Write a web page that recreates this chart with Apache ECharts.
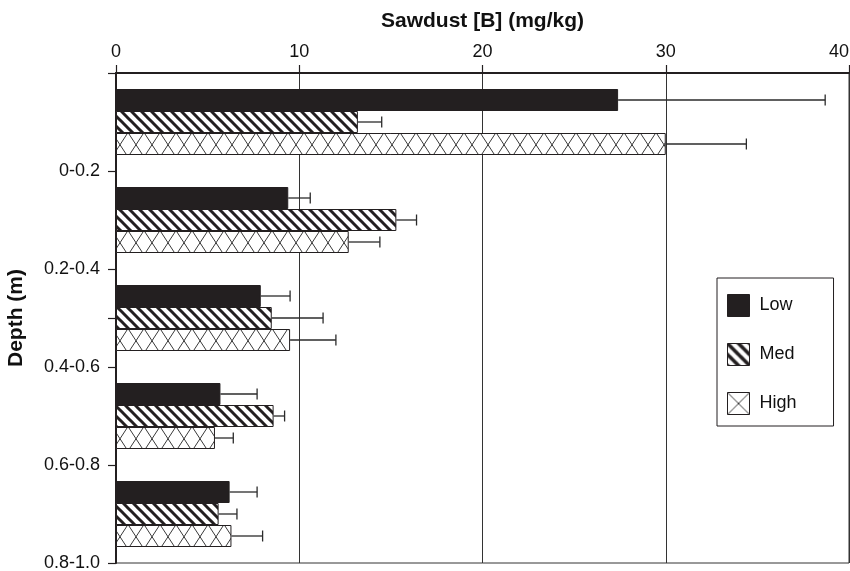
<!DOCTYPE html>
<html>
<head>
<meta charset="utf-8">
<script src="https://cdn.jsdelivr.net/npm/echarts@6/dist/echarts.min.js"></script>
<style>
  html, body { margin: 0; padding: 0; background: #fff; }
  #chart { width: 850px; height: 571px; }
</style>
</head>
<body>
<div id="chart"></div>
<script>
// Depth intervals (m)
const depthLabels = ['0-0.2', '0.2-0.4', '0.4-0.6', '0.6-0.8', '0.8-1.0'];
// Boron in sawdust (mg/kg), mean per treatment level
const lowValues  = [27.4, 9.4, 7.9, 5.7, 6.2];
const medValues  = [13.2, 15.3, 8.5, 8.6, 5.6];
const highValues = [30.0, 12.7, 9.5, 5.4, 6.3];
// Upper error (mg/kg)
const lowErr  = [11.3, 1.2, 1.6, 2.0, 1.5];
const medErr  = [1.3, 1.1, 2.8, 0.6, 1.0];
const highErr = [4.4, 1.7, 2.5, 1.0, 1.7];
// Value-axis tick labels
const xTicks = [0, 10, 20, 30, 40];

const FONT = '"Liberation Sans", Arial, Helvetica, sans-serif';
const INK = '#231f20';
const BAR_W = 22;

function makeTile(w, h, draw) {
  const c = document.createElement('canvas');
  c.width = w; c.height = h;
  const g = c.getContext('2d');
  g.fillStyle = '#fff';
  g.fillRect(0, 0, w, h);
  draw(g, w, h);
  return c;
}

// Thick back-slash stripes
function stripes(period, width) {
  return makeTile(period, period, (g, w) => {
    g.strokeStyle = INK;
    g.lineWidth = width;
    for (const x0 of [-w, 0, w]) {
      g.beginPath();
      g.moveTo(x0 - 2, -2);
      g.lineTo(x0 + w + 2, w + 2);
      g.stroke();
    }
  });
}

// Thin diamond cross-hatch
function diamonds(w, h, rows) {
  return makeTile(w, h, (g) => {
    g.strokeStyle = '#3a3a3a';
    g.lineWidth = 1;
    const rh = h / rows;
    for (let r = 0; r < rows; r++) {
      const y0 = r * rh;
      g.beginPath();
      g.moveTo(0, y0); g.lineTo(w, y0 + rh);
      g.moveTo(w, y0); g.lineTo(0, y0 + rh);
      g.stroke();
    }
  });
}

const medFill  = { image: stripes(10, 3), repeat: 'repeat' };
const highFill = { image: diamonds(16, 49, 2), repeat: 'repeat', y: 10 };
const medLegendFill  = { image: stripes(11, 3.5), repeat: 'repeat' };
const highLegendFill = { image: diamonds(22, 22, 1), repeat: 'repeat' };

function barSeries(name, values, color) {
  return {
    name: name,
    type: 'bar',
    xAxisIndex: 0,
    yAxisIndex: 0,
    data: values,
    barWidth: BAR_W,
    barGap: '0%',
    itemStyle: { color: color, borderColor: INK, borderWidth: 1 },
    emphasis: { disabled: true },
    z: 2
  };
}

// One-sided error bar drawn from the end of each bar
function errorSeries(name, values, errs, slot) {
  return {
    name: name,
    type: 'custom',
    xAxisIndex: 0,
    yAxisIndex: 0,
    data: values.map((v, i) => [v, v + errs[i], i]),
    encode: { x: [0, 1], y: 2 },
    renderItem: function (params, api) {
      const cat = api.value(2);
      const a = api.coord([api.value(0), cat]);
      const b = api.coord([api.value(1), cat]);
      const y = a[1] + (slot - 1) * BAR_W;
      const cap = 5.5;
      const style = { stroke: '#2b2b2b', lineWidth: 1.3 };
      return {
        type: 'group',
        children: [
          { type: 'line', shape: { x1: a[0], y1: y, x2: b[0], y2: y }, style: style },
          { type: 'line', shape: { x1: b[0], y1: y - cap, x2: b[0], y2: y + cap }, style: style }
        ]
      };
    },
    silent: true,
    z: 3
  };
}

const chart = echarts.init(document.getElementById('chart'), null, { renderer: 'canvas' });

chart.setOption({
  animation: false,
  backgroundColor: '#fff',
  textStyle: { fontFamily: FONT },
  grid: {
    left: 116, right: 1, top: 73, bottom: 8,
    show: true, borderColor: '#333', borderWidth: 1,
    containLabel: false,
    outerBoundsMode: 'none'
  },
  legend: {
    orient: 'vertical',
    left: 717, top: 278,
    padding: [16, 37, 11, 10],
    itemGap: 26,
    itemWidth: 22, itemHeight: 22,
    icon: 'rect',
    borderColor: INK, borderWidth: 1, borderRadius: 0,
    backgroundColor: '#fff',
    selectedMode: false,
    textStyle: { fontFamily: FONT, fontSize: 18, color: '#111', padding: [0, 0, 0, 5] },
    itemStyle: { borderColor: INK, borderWidth: 1 },
    data: [
      { name: 'Low', itemStyle: { color: INK } },
      { name: 'Med', itemStyle: { color: medLegendFill } },
      { name: 'High', itemStyle: { color: highLegendFill } }
    ]
  },
  xAxis: {
    type: 'value',
    position: 'top',
    min: xTicks[0], max: xTicks[xTicks.length - 1], interval: 10,
    name: 'Sawdust [B] (mg/kg)',
    nameLocation: 'middle',
    nameGap: 41,
    nameTextStyle: { fontFamily: FONT, fontSize: 21, fontWeight: 'bold', color: '#111' },
    axisLine: { show: true, onZero: false, lineStyle: { color: INK, width: 2 } },
    axisTick: { show: true, inside: false, length: 8, lineStyle: { color: INK, width: 1.2 } },
    axisLabel: {
      fontFamily: FONT, fontSize: 18, color: '#111', margin: 12,
      alignMaxLabel: 'right'
    },
    splitLine: { show: true, lineStyle: { color: '#333', width: 1 } }
  },
  yAxis: [
    {
      type: 'category',
      data: depthLabels,
      inverse: true,
      show: false
    },
    {
      type: 'value',
      position: 'left',
      min: 0, max: depthLabels.length,
      inverse: true,
      name: 'Depth (m)',
      nameLocation: 'middle',
      nameGap: 89,
      nameTextStyle: { fontFamily: FONT, fontSize: 21, fontWeight: 'bold', color: '#111' },
      axisLine: { show: true, onZero: false, lineStyle: { color: INK, width: 2 } },
      axisTick: {
        show: true, inside: false, length: 8,
        customValues: [0, 1, 2, 2.5, 3, 4, 5],
        lineStyle: { color: INK, width: 1.2 }
      },
      axisLabel: {
        fontFamily: FONT, fontSize: 18, color: '#111', margin: 16,
        customValues: [1, 2, 3, 4, 5],
        formatter: (v) => depthLabels[Math.round(v) - 1]
      },
      splitLine: { show: false }
    }
  ],
  series: [
    barSeries('Low', lowValues, INK),
    barSeries('Med', medValues, medFill),
    barSeries('High', highValues, highFill),
    errorSeries('Low error', lowValues, lowErr, 0),
    errorSeries('Med error', medValues, medErr, 1),
    errorSeries('High error', highValues, highErr, 2)
  ]
});
</script>
</body>
</html>
